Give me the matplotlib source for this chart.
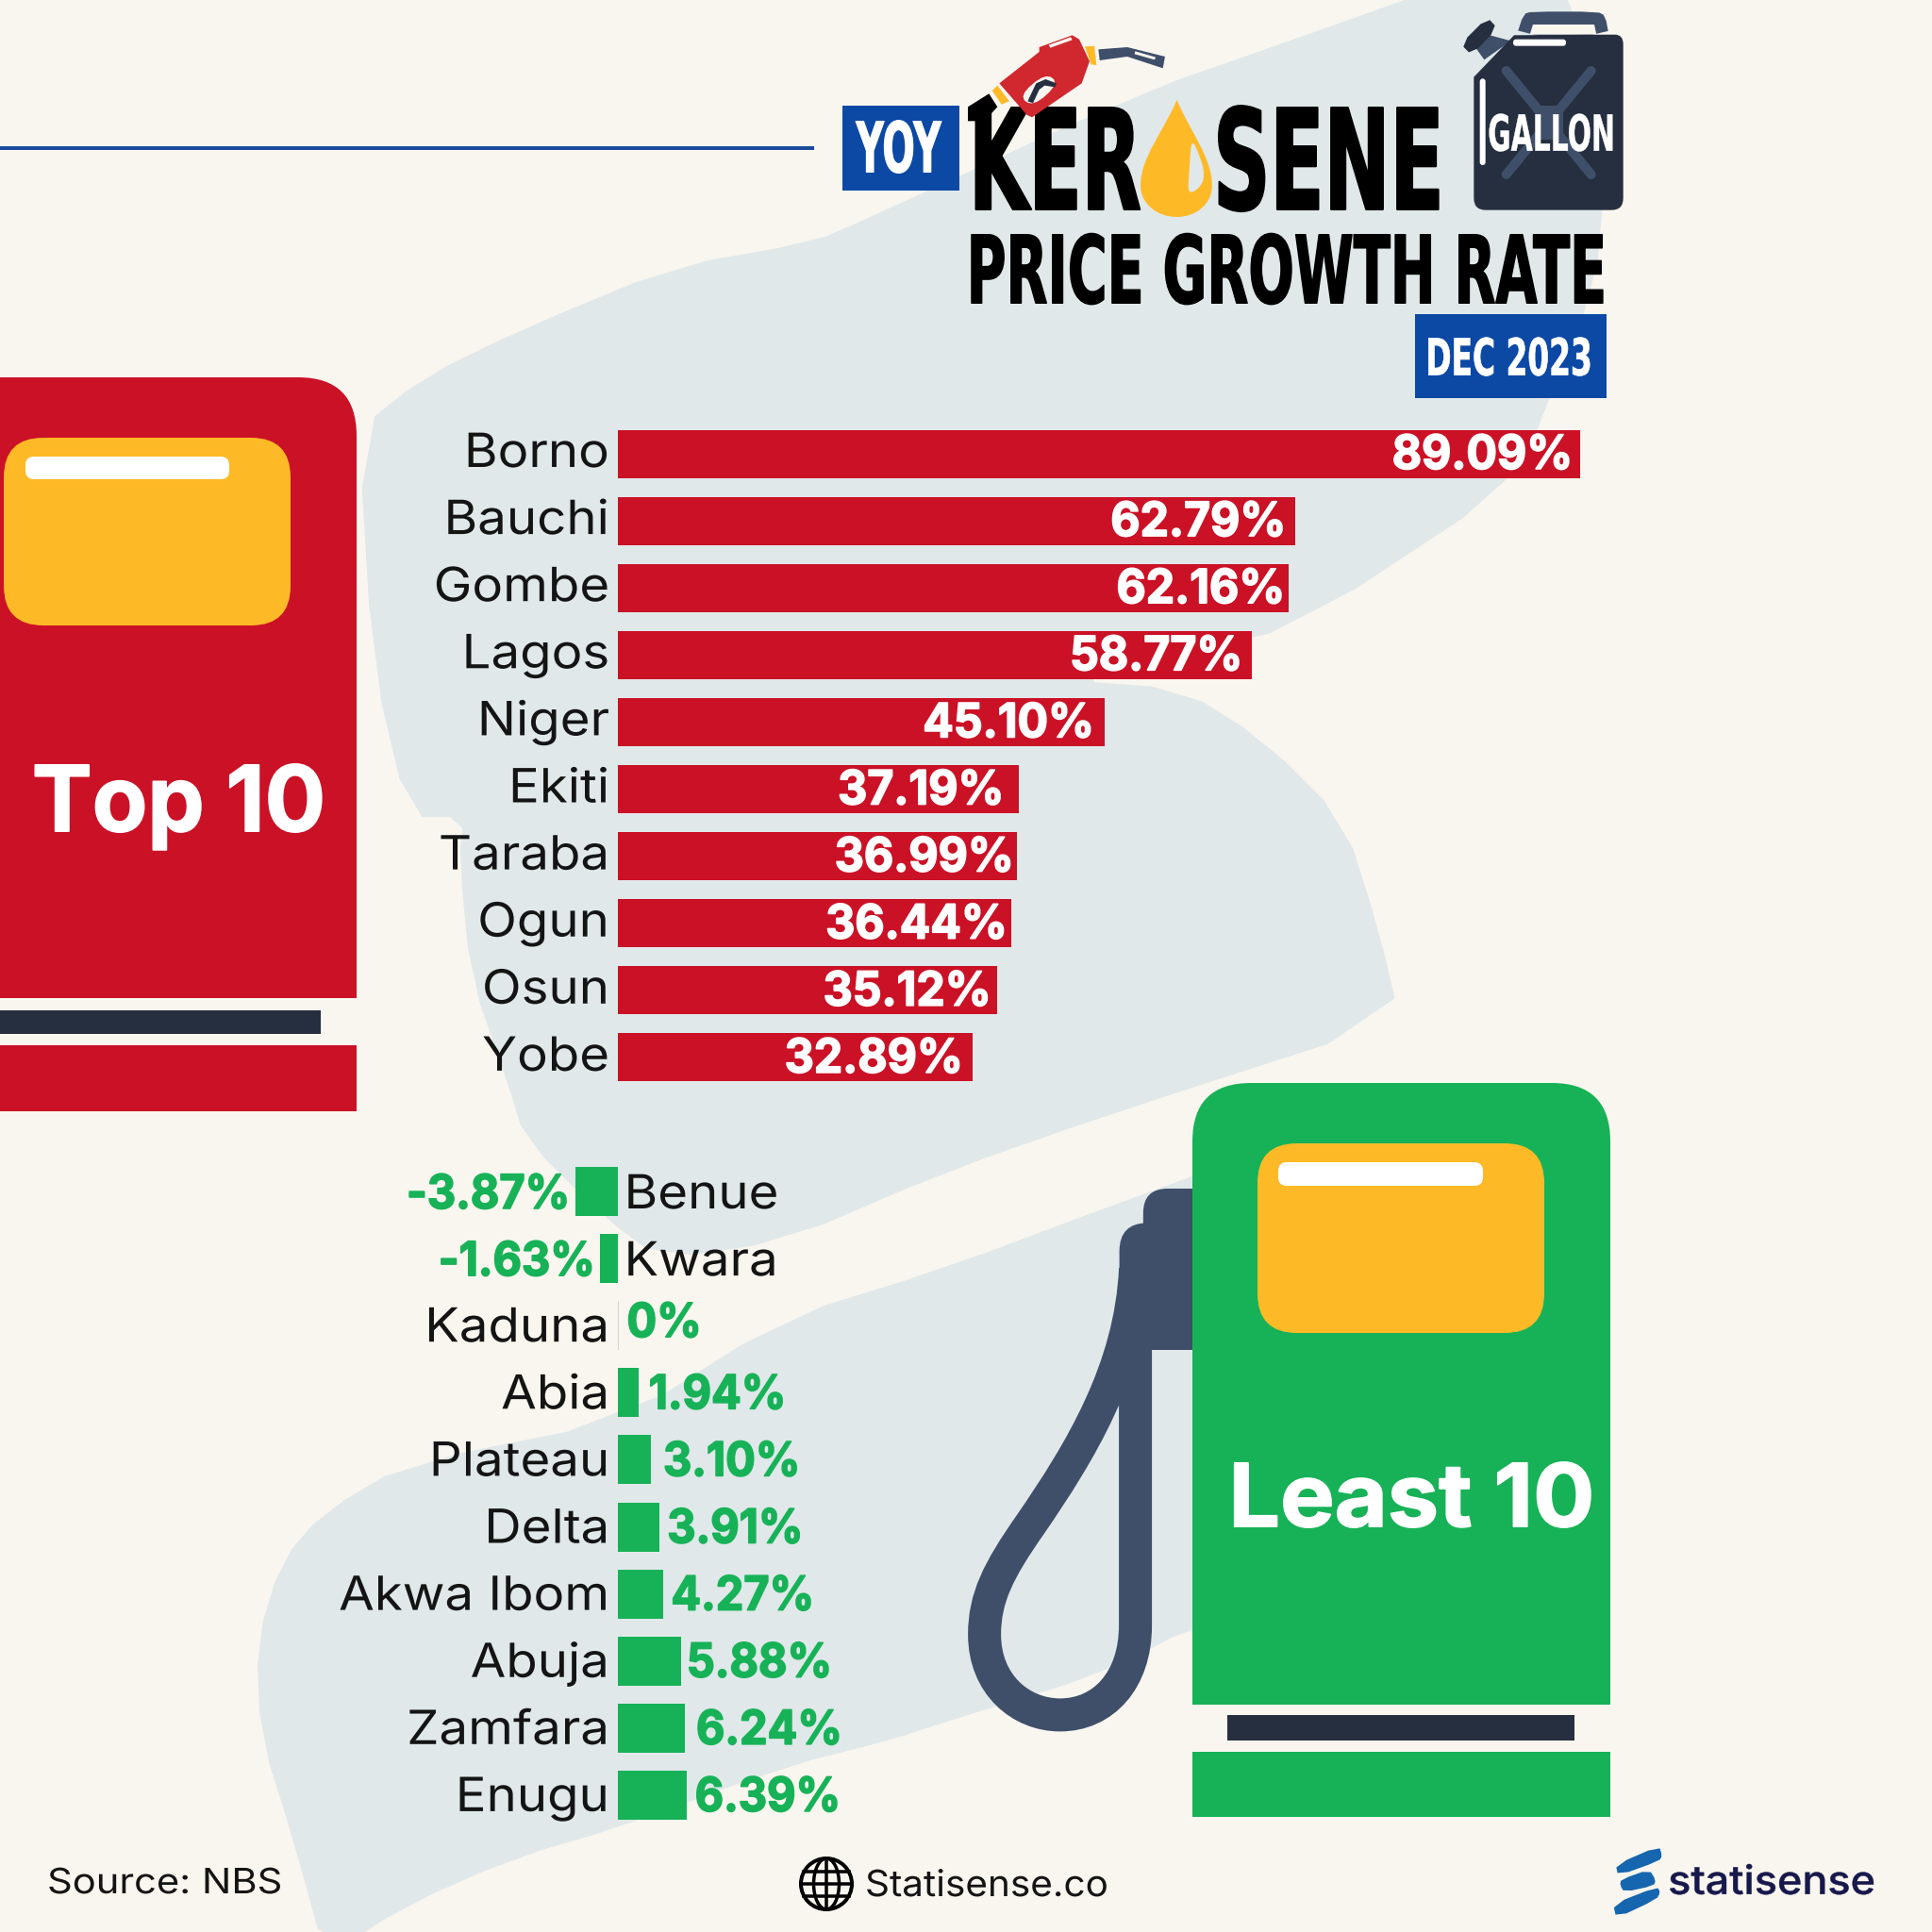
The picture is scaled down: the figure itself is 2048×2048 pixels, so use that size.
import matplotlib
matplotlib.use("Agg")
import matplotlib.pyplot as plt
import numpy as np
from matplotlib.patches import FancyBboxPatch, PathPatch, Polygon, Rectangle, Circle, Ellipse
from matplotlib.path import Path
from matplotlib.patheffects import AbstractPathEffect
from matplotlib.transforms import Affine2D

# values
topStates = ["Borno", "Bauchi", "Gombe", "Lagos", "Niger", "Ekiti", "Taraba", "Ogun", "Osun", "Yobe"]
topValues = [89.09, 62.79, 62.16, 58.77, 45.10, 37.19, 36.99, 36.44, 35.12, 32.89]
lowStates = ["Benue", "Kwara", "Kaduna", "Abia", "Plateau", "Delta", "Akwa Ibom", "Abuja", "Zamfara", "Enugu"]
lowValues = [-3.87, -1.63, 0, 1.94, 3.10, 3.91, 4.27, 5.88, 6.24, 6.39]
lowLabels = ["-3.87%", "-1.63%", "0%", "1.94%", "3.10%", "3.91%", "4.27%", "5.88%", "6.24%", "6.39%"]

# label gaps from the bar end, in pixels
topGaps = [7, 10, 4, 10, 11, 16, 3, 4, 6, 10]
lowGaps = [6, 5, 10, 11, 13, 8, 8, 6, 12, 9]

SIZE = 2048
DPI = 100
PX = DPI / 72
PCT = 11.45      # pixels per percent
ROW = 71.1       # pixels per row
ZERO = 654.5     # x of 0%

BG = "#F9F6EF"
BLOB = "#E0E8EA"
RED = "#CB1126"
GREEN = "#17B257"
YELLOW = "#FEBA26"
NAVY = "#262F40"
SLATE = "#3F4F69"
BLUE = "#0C49A5"
INK = "#141414"
BODY_FONT = "Inter"
TITLE_FONT = "Liberation Sans Narrow"

fig = plt.figure(figsize=(SIZE / DPI, SIZE / DPI), dpi=DPI, facecolor=BG)
rend = fig.canvas.get_renderer()

bg = fig.add_axes([0, 0, 1, 1], zorder=0)
bg.set_xlim(0, SIZE)
bg.set_ylim(SIZE, 0)
bg.axis("off")


class TallText(AbstractPathEffect):
    # stretches a text outline up from its baseline, for the condensed poster lettering
    def __init__(self, sy, y0, stroke=0):
        super().__init__()
        self.sy, self.y0, self.stroke = sy, y0, stroke

    def draw_path(self, renderer, gc, tpath, affine, rgbFace=None):
        aff = affine + Affine2D().translate(0, -self.y0).scale(1, self.sy).translate(0, self.y0)
        gc0 = renderer.new_gc()
        gc0.copy_properties(gc)
        if self.stroke:
            gc0.set_linewidth(self.stroke)
            gc0.set_foreground(rgbFace)
        renderer.draw_path(gc0, tpath, aff, rgbFace)
        gc0.restore()


def placeText(ax, x, y, s, width, em, ha="left", font=BODY_FONT, weight="bold", color="white", stroke=0, z=6):
    # font size is set by the wanted width, the height is then made up by the effect
    t = ax.text(x, y, s, fontsize=em / PX, family=font, weight=weight, color=color, ha=ha, va="baseline", zorder=z)
    sx = width / t.get_window_extent(rend).width
    t.set_fontsize(em * sx / PX)
    t.set_path_effects([TallText(1 / sx, ax.transData.transform((x, y))[1], stroke)])
    return t


def fitText(s, x0, x1, base, cap, font=BODY_FONT, weight="bold", color="white", stroke=0, capRatio=0.727, z=6):
    grow = stroke * PX
    return placeText(bg, x0 + grow / 2, base - grow / 2, s, x1 - x0 - grow, (cap - grow) / capRatio, "left",
                     font, weight, color, stroke, z)


def naturalWidth(s, em, weight):
    t = bg.text(0, 0, s, fontsize=em / PX, family=BODY_FONT, weight=weight)
    w = t.get_window_extent(rend).width
    t.remove()
    return w


def rbox(x0, y0, x1, y1, r, color, z=2):
    bg.add_patch(FancyBboxPatch((x0, y0), x1 - x0, y1 - y0, boxstyle=f"round,pad=0,rounding_size={r}",
                                fc=color, ec="none", zorder=z))


def rect(x0, y0, x1, y1, color, z=2):
    bg.add_patch(Rectangle((x0, y0), x1 - x0, y1 - y0, fc=color, ec="none", zorder=z))


def poly(pts, color, z=2):
    bg.add_patch(Polygon(pts, closed=True, fc=color, ec="none", zorder=z))


def smooth(pts, n=3):
    pts = np.array(pts, float)
    for _ in range(n):
        nxt = np.roll(pts, -1, axis=0)
        pts = np.column_stack([0.75 * pts + 0.25 * nxt, 0.25 * pts + 0.75 * nxt]).reshape(-1, 2)
    return pts


def pumpBody(x0, x1, y0, y1, r, color, z=2):
    # only the top corners are rounded
    v = [(x0, y1), (x0, y0 + r), (x0, y0), (x0 + r, y0), (x1 - r, y0), (x1, y0), (x1, y0 + r), (x1, y1), (x0, y1)]
    c = [Path.MOVETO, Path.LINETO, Path.CURVE3, Path.CURVE3, Path.LINETO, Path.CURVE3, Path.CURVE3, Path.LINETO, Path.CLOSEPOLY]
    bg.add_patch(PathPatch(Path(v, c), fc=color, ec="none", zorder=z))


# background S shape
poly(smooth([(1600, -40), (1660, -40), (1700, 200), (1692, 300), (1640, 427), (1610, 510), (1378, 663), (1253, 695),
             (1129, 721), (1253, 730), (1340, 785), (1425, 870), (1462, 987), (1484, 1082), (1180, 1180), (1000, 1243),
             (831, 1316), (700, 1335), (640, 1290), (556, 1207), (539, 1150), (499, 1036), (487, 912), (491, 866),
             (433, 866), (395, 705), (380, 455), (449, 400), (549, 351), (715, 282), (860, 257), (917, 233),
             (1204, 100), (1377, 40)], 1), BLOB, 1)
poly(smooth([(1450, 1180), (1194, 1272), (1000, 1345), (831, 1397), (659, 1506), (430, 1552), (343, 1603), (298, 1655),
             (272, 1741), (276, 1839), (312, 1954), (345, 2075), (430, 2020), (544, 1970), (660, 1936), (831, 1873),
             (946, 1844), (1000, 1826), (1175, 1772), (1264, 1724), (1450, 1670)], 1), BLOB, 1)

# header rule
rect(0, 154.5, 863, 159, "#1B4B9B")

# red pump
pumpBody(-80, 378, 400, 1058, 62, RED)
rect(0, 1071, 340, 1096, NAVY)
rect(0, 1108, 378, 1178, RED)
rbox(4, 464, 308, 663, 42, YELLOW, 3)
rbox(27, 484, 243, 508, 9, "white", 4)
fitText("Top 10", 33, 346, 882, 72, stroke=1.2)

# green pump
def z2(x, y):
    return (1000 + x / 2.063, 1180 + y / 2.063)


hoseV = [z2(420, 340), z2(410, 560), z2(300, 740), z2(190, 900), z2(120, 1000), z2(90, 1060), z2(90, 1140),
         z2(90, 1250), z2(170, 1316), z2(255, 1316), z2(350, 1316), z2(420, 1240), z2(420, 1120), z2(420, 400)]
hoseC = [Path.MOVETO] + [Path.CURVE4] * 12 + [Path.LINETO]
bg.add_patch(PathPatch(Path(hoseV, hoseC), fc="none", ec=SLATE, lw=35 / PX, zorder=2))
rbox(*z2(437, 165), *z2(600, 400), 26, SLATE)
rbox(*z2(385, 240), *z2(600, 450), 30, SLATE)
rect(*z2(456, 300), *z2(600, 518), SLATE)
pumpBody(1264, 1707, 1148, 1807, 62, GREEN, 3)
rect(1300.5, 1818, 1669, 1845, NAVY)
rect(1264, 1857, 1707, 1925.5, GREEN)
rbox(1333, 1212, 1637, 1413, 42, YELLOW, 4)
rbox(1355, 1232, 1572, 1257, 9, "white", 5)
fitText("Least 10", 1301.5, 1691, 1619, 69, stroke=1.2)

# title block
def z1(x, y):
    return (860 + x / 1.742, y / 3)


rect(893, 112, 1017, 202, BLUE)
fitText("YOY", 907, 998, 183, 55, TITLE_FONT, capRatio=0.729, stroke=0.8)
fitText("KER", 1026, 1211, 223, 110, TITLE_FONT, color="black", capRatio=0.729, stroke=1.6)
fitText("SENE", 1285, 1532, 223, 110, TITLE_FONT, color="black", capRatio=0.729, stroke=1.6)
fitText("PRICE GROWTH RATE", 1024, 1704, 322, 74, TITLE_FONT, color="black", capRatio=0.729, stroke=1.0)
rect(1500, 333, 1703, 422, BLUE)
fitText("DEC 2023", 1511, 1688, 398, 40, TITLE_FONT, capRatio=0.729, stroke=0.5)

# oil drop
dropV = [z1(675, 318), z1(650, 420), z1(608, 500), z1(608, 590), z1(608, 650), z1(640, 690), z1(675, 690),
         z1(710, 690), z1(740, 650), z1(740, 590), z1(740, 500), z1(700, 420), z1(675, 318)]
dropC = [Path.MOVETO] + [Path.CURVE4] * 12
bg.add_patch(PathPatch(Path(dropV, dropC), fc=YELLOW, ec="none", zorder=7))
poly(smooth([z1(702, 440), z1(716, 490), z1(726, 545), z1(722, 590), z1(695, 622), z1(698, 540)], 2), BLOB, 8)

# nozzle
def zn(x, y):
    return (1020 + x / 3, 20 + y / 3)


poly([zn(18, 280), zn(85, 238), zn(112, 280), zn(70, 325), zn(18, 325)], "black", 7)
poly([zn(433, 97), zn(525, 90), zn(645, 120), zn(638, 157), zn(525, 120), zn(437, 132)], SLATE, 8)
poly([zn(550, 103), zn(615, 122), zn(612, 130), zn(548, 112)], BG, 9)
poly([zn(390, 88), zn(420, 86), zn(427, 147), zn(410, 145)], YELLOW, 8)
poly([zn(95, 228), zn(112, 212), zn(150, 262), zn(125, 272)], YELLOW, 8)
poly([zn(118, 205), zn(245, 105), zn(245, 90), zn(350, 52), zn(372, 65), zn(405, 135), zn(380, 205),
      zn(222, 313), zn(205, 305)], "#D1272F", 8)
poly([zn(275, 83), zn(345, 58), zn(350, 67), zn(280, 92)], BG, 9)
poly(smooth([zn(180, 245), zn(265, 172), zn(308, 205), zn(225, 280)], 2), BG, 9)
poly([zn(208, 262), zn(235, 205), zn(265, 192), zn(300, 205), zn(295, 217), zn(262, 212), zn(245, 225), zn(225, 268)], NAVY, 10)


# jerry can
def zc(x, y):
    return (1530 + x / 3, y / 3)


poly(smooth([zc(232, 115), zc(255, 45), zc(280, 37), zc(490, 37), zc(515, 50), zc(527, 115)], 1), SLATE, 2)
poly([zc(275, 110), zc(285, 78), zc(480, 78), zc(487, 110)], BG, 3)
poly([zc(105, 155), zc(140, 110), zc(215, 130), zc(130, 190)], SLATE, 2)
poly(smooth([zc(55, 140), zc(140, 55), zc(172, 90), zc(90, 175)], 1), NAVY, 3)
canV = [zc(97, 245), zc(225, 112), zc(545, 110), zc(572, 110), zc(572, 140), zc(572, 630), zc(572, 668), zc(535, 668),
        zc(135, 668), zc(97, 668), zc(97, 630), zc(97, 245)]
canC = [Path.MOVETO, Path.LINETO, Path.LINETO, Path.CURVE3, Path.CURVE3, Path.LINETO, Path.CURVE3, Path.CURVE3,
        Path.LINETO, Path.CURVE3, Path.CURVE3, Path.LINETO]
bg.add_patch(PathPatch(Path(canV, canC), fc=NAVY, ec="none", zorder=3))
for a, b in [((200, 225), (470, 555)), ((470, 225), (200, 555))]:
    bg.plot(*zip(zc(*a), zc(*b)), color=SLATE, lw=10 / PX, solid_capstyle="round", zorder=4)
rect(*zc(295, 335), *zc(380, 445), SLATE, 4)
rbox(*zc(116, 250), *zc(134, 525), 3, "white", 5)
rbox(*zc(222, 125), *zc(390, 146), 3, "white", 5)
fitText("GALLON", 1577, 1712, 160, 39, TITLE_FONT, capRatio=0.729, stroke=0.3)

# bars, 0% at ZERO on the same pixel grid as the rest
def barAxes(firstRow, z):
    ax = fig.add_axes([0, 0, 1, 1], zorder=z)
    ax.set_xlim(-ZERO / PCT, (SIZE - ZERO) / PCT)
    ax.set_ylim((SIZE - firstRow) / ROW, -firstRow / ROW)
    ax.axis("off")
    ax.patch.set_alpha(0)
    return ax


catScale = 287 / naturalWidth("Akwa Ibom", 50, "normal")
valScale = 186 / naturalWidth("62.79%", 50, "bold")
lowScale = 181 / naturalWidth("62.79%", 50, "bold")


def rowLabel(ax, x, y, s, ha, color, weight, scale, stroke=0):
    width = naturalWidth(s, 50, weight) * scale
    placeText(ax, x, y, s, width, 50, ha, BODY_FONT, weight, color, stroke)


axTop = barAxes(481, 1)
yTop = np.arange(len(topStates))
axTop.barh(yTop, topValues, height=51 / ROW, color=RED)
for i, (state, v) in enumerate(zip(topStates, topValues)):
    rowLabel(axTop, -8.5 / PCT, i + 14 / ROW, state, "right", INK, "normal", catScale)
    rowLabel(axTop, v - topGaps[i] / PCT, i + 16 / ROW, f"{v:.2f}%", "right", "white", "bold", valScale, 1.2)

axLow = barAxes(1263, 2)
yLow = np.arange(len(lowStates))
axLow.barh(yLow, lowValues, height=52 / ROW, color=GREEN)
axLow.barh(2, 0, height=52 / ROW, color=GREEN, edgecolor="#CDD3CF", linewidth=0.7)
for i, (state, v) in enumerate(zip(lowStates, lowValues)):
    if v < 0:
        rowLabel(axLow, 7 / PCT, i + 18 / ROW, state, "left", INK, "normal", catScale)
        rowLabel(axLow, v - lowGaps[i] / PCT, i + 18 / ROW, lowLabels[i], "right", GREEN, "bold", lowScale, 1.2)
    else:
        rowLabel(axLow, -8.5 / PCT, i + 17 / ROW, state, "right", INK, "normal", catScale)
        dy = 12 if v == 0 else 17
        rowLabel(axLow, v + lowGaps[i] / PCT, i + dy / ROW, lowLabels[i], "left", GREEN, "bold", lowScale, 1.2)

# footer
fitText("Source: NBS", 50, 299, 2007, 27, weight="normal", color=INK)
fitText("Statisense.co", 917, 1175, 2010, 28, weight="normal", color=INK)

gx, gy, gr = 876, 1997, 27
bg.add_patch(Circle((gx, gy), gr, fc="none", ec="black", lw=4 / PX, zorder=3))
bg.add_patch(Ellipse((gx, gy), gr, gr * 2, fc="none", ec="black", lw=3.5 / PX, zorder=3))
bg.plot([gx, gx], [gy - gr, gy + gr], color="black", lw=3.5 / PX, zorder=3)
for dy, half in [(-13, 24), (0, 27), (13, 24)]:
    bg.plot([gx - half, gx + half], [gy + dy, gy + dy], color="black", lw=3.5 / PX, zorder=3)


def z6(x, y):
    return (1680 + x / 3, 1930 + y / 3)


LOGO = "#1566AE"
poly(smooth([z6(98, 140), z6(236, 80), z6(246, 112), z6(236, 128), z6(106, 175)], 1), LOGO)
poly(smooth([z6(115, 187), z6(205, 155), z6(226, 190), z6(218, 207), z6(125, 227), z6(112, 205)], 1), LOGO)
poly(smooth([z6(90, 265), z6(230, 210), z6(240, 228), z6(228, 250), z6(100, 310)], 1), LOGO)
fitText("statisense", 1768, 1988, 2008, 31, weight="medium", color="#17184B", stroke=0.3)

fig.savefig("out.png", dpi=DPI, facecolor=BG)
